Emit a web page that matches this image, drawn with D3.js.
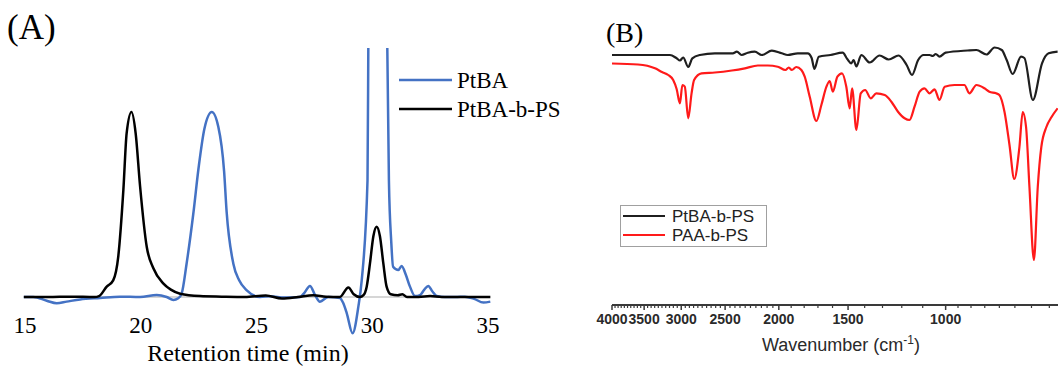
<!DOCTYPE html>
<html>
<head>
<meta charset="utf-8">
<script src="https://cdn.jsdelivr.net/npm/d3@7"></script>
<style>
  body { margin: 0; background: #fff; }
  svg { display: block; }
</style>
</head>
<body>
<div id="chart"></div>
<script>
const width = 1058;
const height = 367;

// (A) GPC traces: [retention time (min), normalised signal]
const ptbaGpc = [
  [14.95, 0], [15.36, 0], [15.94, -0.02], [16.37, -0.034], [16.8, -0.025],
  [17.38, -0.013], [18.24, -0.005], [19.1, 0.002], [19.97, 0], [20.69, 0.011],
  [21.12, 0], [21.41, -0.016], [21.62, -0.007], [21.77, 0.02], [21.98, 0.18],
  [22.27, 0.45], [22.5, 0.7], [22.75, 0.91], [23.07, 1.0], [23.35, 0.92],
  [23.6, 0.68], [23.71, 0.46], [24.0, 0.18], [24.25, 0.09], [24.58, 0.036],
  [25.15, 0], [25.6, 0.004], [26.2, -0.003], [26.88, 0], [27.05, 0.02],
  [27.31, 0.06], [27.53, 0.01], [27.74, -0.025], [28.1, 0], [28.6, -0.005],
  [28.75, -0.034], [28.9, -0.088], [29.15, -0.196], [29.4, -0.052],
  [29.545, 0.09], [29.795, 0.63], [29.83, 1.35], [29.87, 2.4], [30.25, 3.5],
  [30.6, 2.4], [30.65, 1.35], [30.72, 0.63], [30.82, 0.3], [30.9, 0.164],
  [31.13, 0.146], [31.27, 0.168], [31.45, 0.12], [31.63, 0.056],
  [31.85, 0.005], [32.06, 0.01], [32.25, 0.04], [32.42, 0.06], [32.6, 0.03],
  [32.78, 0.005], [33.14, 0], [33.6, 0], [34.0, 0.002], [34.4, -0.01],
  [34.8, -0.03], [35.1, -0.025],
];

const ptbaPsGpc = [
  [14.95, 0], [16, 0], [17, 0.002], [18.0, 0], [18.2, 0.005], [18.53, 0.056],
  [18.81, 0.09], [19.03, 0.22], [19.25, 0.58], [19.39, 0.885], [19.6, 1.0],
  [19.78, 0.885], [19.97, 0.6], [20.26, 0.27], [20.54, 0.157], [20.97, 0.074],
  [21.3, 0.04], [21.7, 0.018], [22.56, 0.005], [23.5, 0.002], [24.5, 0],
  [25.4, 0.008], [26.1, -0.008], [26.8, 0], [27.45, 0.01], [28.0, 0.002],
  [28.6, 0], [28.97, 0.052], [29.2, 0.015], [29.47, 0], [29.62, 0.01],
  [29.76, 0.056], [29.9, 0.18], [30.05, 0.33], [30.19, 0.38], [30.33, 0.33],
  [30.48, 0.18], [30.62, 0.056], [30.8, 0.015], [31.1, 0.01], [31.3, 0.015],
  [31.5, 0], [32.0, 0], [32.5, 0.005], [33, 0], [35.1, 0],
];

const gpcTicks = [15, 20, 25, 30, 35];
const gpcLegend = ["PtBA", "PtBA-b-PS"];

// (B) FTIR traces: [wavenumber (cm-1), transmittance (a.u.)]
const ptbaPsIr = [
  [4000, 225], [3561, 225], [3144, 225], [3058, 221.7], [3016, 219.5],
  [2976, 222.5], [2914, 213], [2865, 221.7], [2776, 225], [2609, 226.7],
  [2421, 226.7], [2381, 228.3], [2335, 225], [2275, 227.3], [2210, 228.3],
  [2147, 225], [2059, 229.3], [1976, 226.7], [1927, 225], [1849, 226.7],
  [1774, 226.7], [1745, 222], [1725, 211], [1694, 223.3], [1614, 225],
  [1534, 227.3], [1505, 221], [1480, 216.7], [1466, 220], [1449, 213.5],
  [1420, 225], [1371, 217.5], [1316, 224.5], [1267, 220.5], [1216, 224.5],
  [1176, 215], [1150, 205], [1121, 220], [1096, 225], [1069, 225],
  [1055, 224], [1042, 226], [1026, 223.3], [1000, 227.3], [913, 229.5],
  [880, 230], [844, 225.5], [816, 232.5], [792, 230], [776, 220], [757, 206],
  [731, 223.3], [721, 222], [696, 180], [670, 216.7], [652, 226.7],
  [628, 228.3],
];

const paaPsIr = [
  [4000, 216.5], [3591, 215.5], [3346, 211.7], [3250, 208], [3167, 205],
  [3102, 200], [3058, 191], [3016, 176.7], [2986, 195], [2956, 193.3],
  [2914, 161.7], [2874, 186.7], [2844, 200], [2757, 206.7], [2609, 207.5],
  [2431, 209.5], [2303, 211.7], [2182, 214.5], [2094, 214.5], [2009, 213.3],
  [1946, 210], [1919, 212.5], [1895, 210], [1860, 213], [1821, 210],
  [1796, 203.3], [1759, 183.3], [1711, 159], [1676, 175], [1641, 193.3],
  [1619, 199], [1598, 188.3], [1568, 203.3], [1538, 206.7], [1511, 193.3],
  [1490, 171.7], [1475, 191.7], [1449, 150], [1423, 186.7], [1397, 190],
  [1365, 181.7], [1334, 186.7], [1288, 185], [1253, 178.3], [1219, 168.3],
  [1186, 161.7], [1162, 160], [1138, 173.3], [1114, 188.3], [1092, 191.7],
  [1069, 186.7], [1047, 190.7], [1026, 180], [1004, 193.3], [964, 195],
  [925, 195], [906, 186.7], [880, 195], [851, 191.7], [834, 188.3],
  [811, 186.7], [800, 185], [783, 168], [767, 135], [752, 101], [736, 133],
  [726, 168], [716, 153], [706, 93], [693, 20], [682, 93], [672, 133],
  [658, 153], [644, 163], [628, 171.7],
];

const irMajorTicks = [4000, 3500, 3000, 2500, 2000, 1500, 1000];
const irMinorTicks = [
  3950, 3900, 3850, 3800, 3750, 3700, 3650, 3600, 3550,
  3450, 3400, 3350, 3300, 3250, 3200, 3150, 3100, 3050,
  2950, 2900, 2850, 2800, 2750, 2700, 2650, 2600, 2550,
  2450, 2400, 2350, 2300, 2250, 2200, 2150, 2100, 2050,
  1900, 1800, 1700, 1600, 1400, 1300, 1200, 1100,
  950, 900, 850, 800, 750, 700, 650,
];
const irLegend = ["PtBA-b-PS", "PAA-b-PS"];

const svg = d3
  .select("#chart")
  .append("svg")
  .attr("width", width)
  .attr("height", height);

// ---------- Panel A ----------
const serif = "'Liberation Serif', 'Times New Roman', serif";

const xA = d3.scaleLinear().domain([15, 35]).range([25, 488]);
const yA = d3.scaleLinear().domain([0, 1]).range([297, 112]);

svg
  .append("defs")
  .append("clipPath")
  .attr("id", "clipA")
  .append("rect")
  .attr("x", 0)
  .attr("y", 48)
  .attr("width", 540)
  .attr("height", 320);

// zero line
svg
  .append("line")
  .attr("x1", xA(14.95))
  .attr("x2", xA(35.1))
  .attr("y1", yA(0))
  .attr("y2", yA(0))
  .attr("stroke", "#c8c8c8")
  .attr("stroke-width", 1.5);

const lineA = d3
  .line()
  .x((d) => xA(d[0]))
  .y((d) => yA(d[1]))
  .curve(d3.curveMonotoneX);

const gA = svg.append("g").attr("clip-path", "url(#clipA)");

gA.append("path")
  .datum(ptbaGpc)
  .attr("d", lineA)
  .attr("fill", "none")
  .attr("stroke", "#4472c4")
  .attr("stroke-width", 2.5);

gA.append("path")
  .datum(ptbaPsGpc)
  .attr("d", lineA)
  .attr("fill", "none")
  .attr("stroke", "#000")
  .attr("stroke-width", 2.5);

svg
  .selectAll(".tickA")
  .data(gpcTicks)
  .enter()
  .append("text")
  .attr("class", "tickA")
  .attr("x", (d) => xA(d))
  .attr("y", 333)
  .attr("text-anchor", "middle")
  .style("font-family", serif)
  .style("font-size", "23px")
  .text((d) => d);

svg
  .append("text")
  .attr("x", 248)
  .attr("y", 361)
  .attr("text-anchor", "middle")
  .style("font-family", serif)
  .style("font-size", "24px")
  .text("Retention time (min)");

svg
  .append("text")
  .attr("x", 7)
  .attr("y", 39)
  .style("font-family", serif)
  .style("font-size", "35px")
  .text("(A)");

const legA = svg
  .selectAll(".legA")
  .data(gpcLegend)
  .enter()
  .append("g")
  .attr("class", "legA")
  .attr("transform", (d, i) => `translate(399, ${80 + i * 29})`);

legA
  .append("line")
  .attr("x1", 0)
  .attr("x2", 53)
  .attr("stroke", (d, i) => (i === 0 ? "#4472c4" : "#000"))
  .attr("stroke-width", 2.5);

legA
  .append("text")
  .attr("x", 58)
  .attr("y", 8)
  .style("font-family", serif)
  .style("font-size", "23px")
  .text((d) => d);

// ---------- Panel B ----------
const sans = "'Liberation Sans', Arial, sans-serif";

const xB = d3.scaleLog().domain([4000, 627]).range([612, 1058]);
const yB = d3.scaleLinear().domain([0, 230]).range([280, 50]);

const lineB = d3
  .line()
  .x((d) => xB(d[0]))
  .y((d) => yB(d[1]))
  .curve(d3.curveMonotoneX);

svg
  .append("path")
  .datum(paaPsIr)
  .attr("d", lineB)
  .attr("fill", "none")
  .attr("stroke", "#ff1a1a")
  .attr("stroke-width", 2.2);

svg
  .append("path")
  .datum(ptbaPsIr)
  .attr("d", lineB)
  .attr("fill", "none")
  .attr("stroke", "#1f1f1f")
  .attr("stroke-width", 2.2);

const axisY = 305;

svg
  .append("line")
  .attr("x1", xB(4000))
  .attr("x2", width)
  .attr("y1", axisY)
  .attr("y2", axisY)
  .attr("stroke", "#3a3a3a")
  .attr("stroke-width", 2);

svg
  .selectAll(".minorB")
  .data(irMinorTicks)
  .enter()
  .append("line")
  .attr("class", "minorB")
  .attr("x1", (d) => xB(d))
  .attr("x2", (d) => xB(d))
  .attr("y1", axisY)
  .attr("y2", axisY + 3)
  .attr("stroke", "#3a3a3a")
  .attr("stroke-width", 1.2);

svg
  .selectAll(".majorB")
  .data(irMajorTicks)
  .enter()
  .append("line")
  .attr("class", "majorB")
  .attr("x1", (d) => xB(d))
  .attr("x2", (d) => xB(d))
  .attr("y1", axisY)
  .attr("y2", axisY + 5)
  .attr("stroke", "#3a3a3a")
  .attr("stroke-width", 1.5);

svg
  .selectAll(".tickB")
  .data(irMajorTicks)
  .enter()
  .append("text")
  .attr("class", "tickB")
  .attr("x", (d) => xB(d))
  .attr("y", 324)
  .attr("text-anchor", "middle")
  .attr("fill", "#2a2a2a")
  .style("font-family", sans)
  .style("font-weight", "bold")
  .style("font-size", "14px")
  .text((d) => d);

const titleB = svg
  .append("text")
  .attr("x", 841)
  .attr("y", 351)
  .attr("text-anchor", "middle")
  .attr("fill", "#2a2a2a")
  .style("font-family", sans)
  .style("font-size", "18px");
titleB.append("tspan").text("Wavenumber (cm");
titleB
  .append("tspan")
  .attr("dy", -7)
  .style("font-size", "12px")
  .text("-1");
titleB.append("tspan").attr("dy", 7).text(")");

svg
  .append("text")
  .attr("x", 606)
  .attr("y", 42)
  .style("font-family", serif)
  .style("font-size", "28px")
  .text("(B)");

svg
  .append("rect")
  .attr("x", 620.5)
  .attr("y", 205.5)
  .attr("width", 146)
  .attr("height", 41)
  .attr("fill", "#fff")
  .attr("stroke", "#a0a0a0")
  .attr("stroke-width", 1);

const legB = svg
  .selectAll(".legB")
  .data(irLegend)
  .enter()
  .append("g")
  .attr("class", "legB")
  .attr("transform", (d, i) => `translate(623, ${216 + i * 19})`);

legB
  .append("line")
  .attr("x1", 0)
  .attr("x2", 42)
  .attr("stroke", (d, i) => (i === 0 ? "#1f1f1f" : "#ff1a1a"))
  .attr("stroke-width", 2);

legB
  .append("text")
  .attr("x", 49)
  .attr("y", 6)
  .attr("fill", "#222")
  .style("font-family", sans)
  .style("font-size", "17px")
  .text((d) => d);
</script>
</body>
</html>
